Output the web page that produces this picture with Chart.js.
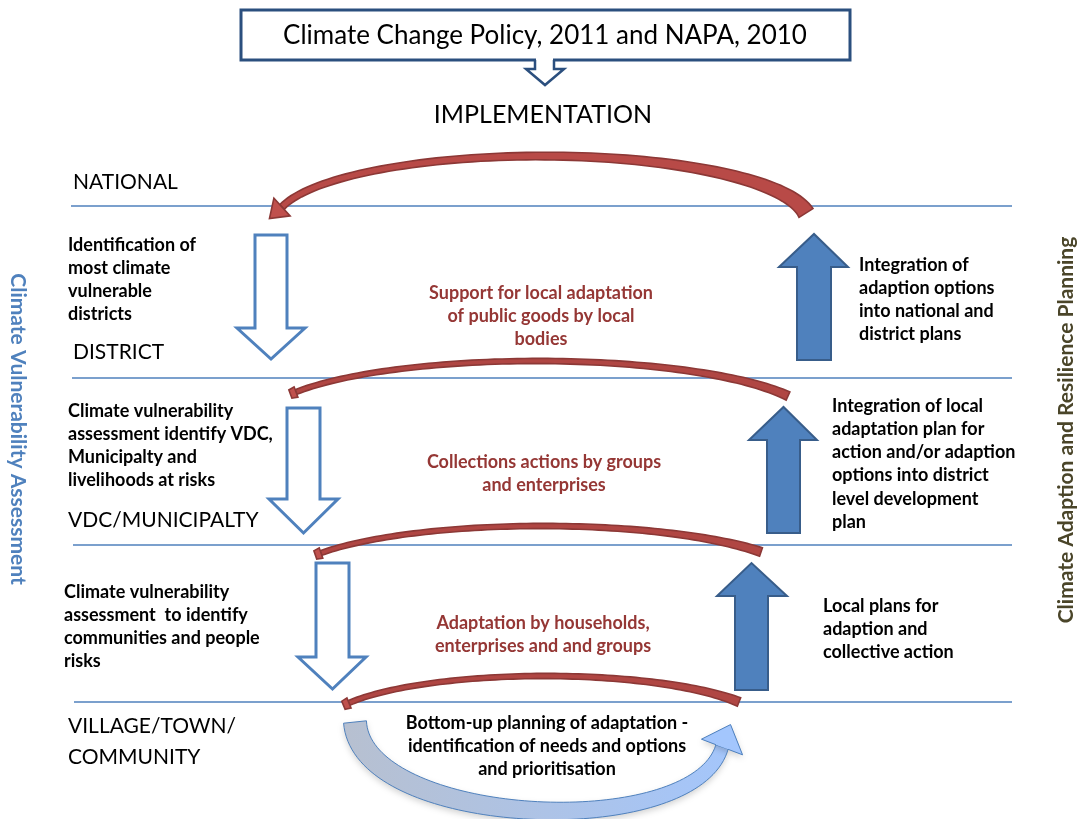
<!DOCTYPE html>
<html>
<head>
<meta charset="utf-8">
<script src="https://cdn.jsdelivr.net/npm/chart.js@4.4.1/dist/chart.umd.min.js"></script>
<style>
  html, body { margin: 0; padding: 0; background: #fff; }
  #wrap { width: 1078px; height: 819px; }
</style>
</head>
<body>
<div id="wrap"><canvas id="myChart"></canvas></div>
<script>

// ---- text of the diagram ----
let TITLE = 'Climate Change Policy, 2011 and NAPA, 2010'
let SUBTITLE = 'IMPLEMENTATION'
let LEVELS = [['NATIONAL'], ['DISTRICT'], ['VDC/MUNICIPALTY'], ['VILLAGE/TOWN/', 'COMMUNITY']]
let LEFT_AXIS = 'Climate Vulnerability Assessment'
let RIGHT_AXIS = 'Climate Adaption and Resilience Planning'

let ASSESS_NOTES = [
    ['Identification of', 'most climate', 'vulnerable', 'districts'],
    ['Climate vulnerability', 'assessment identify VDC,', 'Municipalty and', 'livelihoods at risks'],
    ['Climate vulnerability', 'assessment  to identify', 'communities and people', 'risks']
]
let PLAN_NOTES = [
    ['Integration of', 'adaption options', 'into national and', 'district plans'],
    ['Integration of local', 'adaptation plan for', 'action and/or adaption', 'options into district', 'level development', 'plan'],
    ['Local plans for', 'adaption and', 'collective action']
]
let FLOW_NOTES = [
    ['Support for local adaptation', 'of public goods by local', 'bodies'],
    ['Collections actions by groups', 'and enterprises'],
    ['Adaptation by households,', 'enterprises and and groups']
]
let BOTTOM_NOTE = ['Bottom-up planning of adaptation -', 'identification of needs and options', 'and prioritisation']

// ---- layout (in the 1078 x 819 space of the x / y scales) ----
let LEVEL_Y = [206, 378, 545, 702]
let LEVEL_X0 = [71, 72, 73, 74]
let LEVEL_X1 = 1012
let LEVEL_LABEL = [[73, 182], [73, 352], [68, 520], [68, 726]]
let ASSESS_POS = [[68, 245], [68, 411], [64, 592]]
let PLAN_POS = [[859, 265], [832, 406], [823, 606]]
let FLOW_POS = [[541, 293], [544, 462], [543, 623]]

// down arrows: shaft left, shaft right, top, head y, head left, head right, tip y
let DOWN_ARROWS = [
    [255, 287, 235, 328, 237, 305, 359],
    [287, 320, 408, 499, 269, 338, 533],
    [316, 349, 563, 657, 298, 366, 689]
]
// up arrows: shaft left, shaft right, bottom, head y, head left, head right, tip y
let UP_ARROWS = [
    [797, 831, 360, 267, 779, 848, 234],
    [767, 800, 533, 440, 749, 817, 407],
    [735, 768, 690, 596, 717, 787, 563]
]
// red arcs: left end, right end, peak, vertical radius
let ARCS = [
    [282, 207, 806, 213, 156, 66],
    [296, 392, 788, 396, 361, 60],
    [321, 553, 761, 552, 526, 55],
    [349, 703, 739, 702, 676, 50]
]

const FONT = 'Lato, "Open Sans", sans-serif'

let ctx = document.getElementById('myChart')

function cubic(p, t) {
    let u = 1 - t
    return [
        u * u * u * p[0][0] + 3 * u * u * t * p[1][0] + 3 * u * t * t * p[2][0] + t * t * t * p[3][0],
        u * u * u * p[0][1] + 3 * u * u * t * p[1][1] + 3 * u * t * t * p[2][1] + t * t * t * p[3][1]
    ]
}

// polygon around a centre line with variable width
function bandPath(c, pts, widths) {
    let left = [], right = []
    for (let i = 0; i < pts.length; i++) {
        let a = pts[Math.max(0, i - 1)], b = pts[Math.min(pts.length - 1, i + 1)]
        let dx = b[0] - a[0], dy = b[1] - a[1]
        let len = Math.hypot(dx, dy) || 1
        let nx = -dy / len, ny = dx / len
        let w = widths[i] / 2
        left.push([pts[i][0] + nx * w, pts[i][1] + ny * w])
        right.push([pts[i][0] - nx * w, pts[i][1] - ny * w])
    }
    c.beginPath()
    left.forEach((p, i) => i ? c.lineTo(p[0], p[1]) : c.moveTo(p[0], p[1]))
    for (let i = right.length - 1; i >= 0; i--) c.lineTo(right[i][0], right[i][1])
    c.closePath()
}

function drawLines(c, lines, x, y, dy, font, color, align) {
    c.font = font
    c.fillStyle = color
    c.textAlign = align
    c.textBaseline = 'middle'
    lines.forEach((l, i) => c.fillText(l, x, y + i * dy))
}

const diagram = {
    id: 'diagram',
    beforeDraw(chart) {
        let c = chart.ctx
        c.save()
        c.fillStyle = '#ffffff'
        c.fillRect(0, 0, chart.width, chart.height)
        c.restore()
    },
    afterDatasetsDraw(chart) {
        let c = chart.ctx
        let X = v => chart.scales.x.getPixelForValue(v)
        let Y = v => chart.scales.y.getPixelForValue(v)
        c.save()

        // title box and small arrow
        c.lineWidth = 3
        c.strokeStyle = '#2b4f7e'
        c.fillStyle = '#ffffff'
        c.strokeRect(X(241), Y(10), X(850) - X(241), Y(60) - Y(10))
        c.fillRect(X(536), Y(57), X(553) - X(536), 6)
        c.beginPath()
        c.moveTo(X(535), Y(60)); c.lineTo(X(535), Y(69)); c.lineTo(X(526), Y(69))
        c.lineTo(X(545), Y(85)); c.lineTo(X(564), Y(69)); c.lineTo(X(554), Y(69)); c.lineTo(X(554), Y(60))
        c.lineWidth = 2.5
        c.stroke()

        // hollow down arrows
        c.lineWidth = 3
        c.strokeStyle = '#4f81bd'
        c.lineJoin = 'miter'
        DOWN_ARROWS.forEach(a => {
            let [sl, sr, top, hy, hl, hr, tip] = a
            c.beginPath()
            c.moveTo(X(sl), Y(top)); c.lineTo(X(sr), Y(top)); c.lineTo(X(sr), Y(hy)); c.lineTo(X(hr), Y(hy))
            c.lineTo(X((sl + sr) / 2), Y(tip)); c.lineTo(X(hl), Y(hy)); c.lineTo(X(sl), Y(hy))
            c.closePath()
            c.fillStyle = '#ffffff'
            c.fill()
            c.stroke()
        })

        // filled up arrows
        c.lineWidth = 2
        c.strokeStyle = '#385d8a'
        UP_ARROWS.forEach(a => {
            let [sl, sr, bot, hy, hl, hr, tip] = a
            c.beginPath()
            c.moveTo(X(sl), Y(bot)); c.lineTo(X(sr), Y(bot)); c.lineTo(X(sr), Y(hy)); c.lineTo(X(hr), Y(hy))
            c.lineTo(X((sl + sr) / 2), Y(tip)); c.lineTo(X(hl), Y(hy)); c.lineTo(X(sl), Y(hy))
            c.closePath()
            c.fillStyle = '#4f81bd'
            c.fill()
            c.stroke()
        })

        // red curved arrows (parts of ellipses)
        ARCS.forEach((a, k) => {
            let [x0, y0, x1, y1, yPeak, ry] = a
            let cy = yPeak + ry
            let s0 = (cy - y0) / ry, s1 = (cy - y1) / ry
            let c0 = Math.sqrt(1 - s0 * s0), c1 = Math.sqrt(1 - s1 * s1)
            let rx = (x1 - x0) / (c0 + c1)
            let cx = x0 + c0 * rx
            let th0 = Math.PI + Math.asin(s0), th1 = 2 * Math.PI - Math.asin(s1)
            let pts = [], widths = []
            let n = 80
            for (let i = 0; i <= n; i++) {
                let t = i / n
                let th = th0 + (th1 - th0) * t
                pts.push([X(cx + rx * Math.cos(th)), Y(cy + ry * Math.sin(th))])
                widths.push(k === 0 ? 6.5 + 10 * Math.pow(t, 3) : 5 + 4 * Math.pow(t, 4))
            }
            bandPath(c, pts, widths)
            c.fillStyle = k === 0 ? '#b84a47' : '#b04643'
            c.strokeStyle = '#8c3836'
            c.lineWidth = 1.6
            c.fill()
            c.stroke()

            // head at the left end
            let p0 = pts[0], p1 = pts[2]
            let dx = p0[0] - p1[0], dy = p0[1] - p1[1]
            let len = Math.hypot(dx, dy)
            dx /= len; dy /= len
            let L = k === 0 ? 17 : 6
            let hw = k === 0 ? 12 : 5.5
            c.beginPath()
            c.moveTo(p0[0] + dy * hw, p0[1] - dx * hw)
            if (k === 0) {
                c.lineTo(p0[0] + dx * L, p0[1] + dy * L)
            } else {
                c.lineTo(p0[0] + dy * hw * 0.8 + dx * L, p0[1] - dx * hw * 0.8 + dy * L)
                c.lineTo(p0[0] - dy * hw * 0.8 + dx * L, p0[1] + dx * hw * 0.8 + dy * L)
            }
            c.lineTo(p0[0] - dy * hw, p0[1] + dx * hw)
            c.closePath()
            c.fillStyle = '#c0504d'
            c.fill()
            c.stroke()
        })

        // bottom-up curved arrow
        let ctrl = [[355, 722], [362, 828], [694, 843], [722, 747]]
        let pts = [], widths = []
        for (let i = 0; i <= 80; i++) {
            let t = i / 80
            let p = cubic(ctrl, t)
            pts.push([X(p[0]), Y(p[1])])
            widths.push(23 - 10 * t)
        }
        let grad = c.createLinearGradient(X(343), 0, X(750), 0)
        grad.addColorStop(0, '#b7c0d0')
        grad.addColorStop(1, '#a3c6fd')
        c.shadowColor = 'rgba(0,0,0,0.18)'
        c.shadowBlur = 6
        c.shadowOffsetY = 3
        bandPath(c, pts, widths)
        c.fillStyle = grad
        c.fill()
        let e = pts[pts.length - 1], f = pts[pts.length - 3]
        let dx = e[0] - f[0], dy = e[1] - f[1], len = Math.hypot(dx, dy)
        dx /= len; dy /= len
        let hw = 22, hl = 24
        c.beginPath()
        c.moveTo(e[0] + dy * hw, e[1] - dx * hw)
        c.lineTo(e[0] + dx * hl, e[1] + dy * hl)
        c.lineTo(e[0] - dy * hw, e[1] + dx * hw)
        c.closePath()
        c.fill()
        c.shadowColor = 'transparent'
        c.strokeStyle = '#4f81bd'
        c.lineWidth = 1
        bandPath(c, pts, widths)
        c.stroke()
        c.beginPath()
        c.moveTo(e[0] + dy * 6.5, e[1] - dx * 6.5)
        c.lineTo(e[0] + dy * hw, e[1] - dx * hw)
        c.lineTo(e[0] + dx * hl, e[1] + dy * hl)
        c.lineTo(e[0] - dy * hw, e[1] + dx * hw)
        c.lineTo(e[0] - dy * 6.5, e[1] + dx * 6.5)
        c.fillStyle = '#a3c6fd'
        c.fill()
        c.stroke()

        // texts
        drawLines(c, [TITLE], X(545), Y(36), 0, '26px ' + FONT, '#000', 'center')
        drawLines(c, [SUBTITLE], X(543), Y(115), 0, '25px ' + FONT, '#000', 'center')
        LEVELS.forEach((lv, i) => drawLines(c, lv, X(LEVEL_LABEL[i][0]), Y(LEVEL_LABEL[i][1]), 31, '21px ' + FONT, '#000', 'left'))
        ASSESS_NOTES.forEach((n, i) => drawLines(c, n, X(ASSESS_POS[i][0]), Y(ASSESS_POS[i][1]), 23, 'bold 18px ' + FONT, '#000', 'left'))
        PLAN_NOTES.forEach((n, i) => drawLines(c, n, X(PLAN_POS[i][0]), Y(PLAN_POS[i][1]), 23.2, 'bold 18px ' + FONT, '#000', 'left'))
        FLOW_NOTES.forEach((n, i) => drawLines(c, n, X(FLOW_POS[i][0]), Y(FLOW_POS[i][1]), 23, 'bold 18px ' + FONT, '#953735', 'center'))
        drawLines(c, BOTTOM_NOTE, X(547), Y(723), 23, 'bold 18px ' + FONT, '#000', 'center')

        // side titles
        c.save()
        c.translate(X(18), Y(429))
        c.rotate(Math.PI / 2)
        drawLines(c, [LEFT_AXIS], 0, 0, 0, 'bold 21px ' + FONT, '#4f81bd', 'center')
        c.restore()
        c.save()
        c.translate(X(1066), Y(430))
        c.rotate(-Math.PI / 2)
        drawLines(c, [RIGHT_AXIS], 0, 0, 0, 'bold 21px ' + FONT, '#4a4529', 'center')
        c.restore()

        c.restore()
    }
}

// level lines go through the library as line datasets
let levelSets = LEVEL_Y.map((y, i) => ({
    data: [{ x: LEVEL_X0[i], y: y }, { x: LEVEL_X1, y: y }],
    showLine: true,
    borderColor: '#4f81bd',
    borderWidth: 1.4,
    pointRadius: 0
}))

let myChart = new Chart(ctx, {
    type: 'scatter',
    data: { datasets: levelSets },
    options: {
        responsive: true,
        maintainAspectRatio: false,
        animation: false,
        layout: { padding: 0 },
        plugins: { legend: { display: false }, tooltip: { enabled: false } },
        scales: {
            x: { type: 'linear', min: 0, max: 1078, display: false },
            y: { type: 'linear', min: 0, max: 819, reverse: true, display: false }
        }
    },
    plugins: [diagram]
})
</script>
</body>
</html>
